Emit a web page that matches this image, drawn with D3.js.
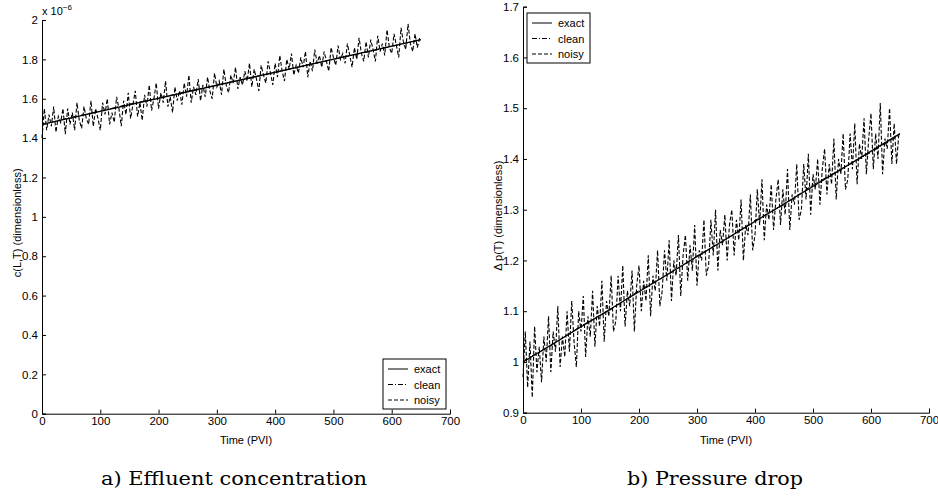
<!DOCTYPE html>
<html lang="en">
<head>
<meta charset="UTF-8">
<title>Effluent concentration and pressure drop</title>
<script src="https://d3js.org/d3.v7.min.js"></script>
<style>
    body { margin: 0; background: #fff; }
    svg { display: block; }
    .tick text { font-family: "Liberation Sans", Arial, sans-serif; font-size: 11.5px; fill: #000; }
    .lbl { font-family: "Liberation Sans", Arial, sans-serif; font-size: 11px; fill: #000; }
    .cap { font-family: "DejaVu Serif", serif; font-size: 19px; fill: #000; }
</style>
</head>
<body>
<script>
// time samples of the noisy series (PVI)
const noisyTime = d3.range(0, 649, 4);

// a) effluent concentration, in units of 1e-6
const concExactT = [0, 650];
const concExact = [1.47, 1.90];
const concCleanT = [0, 50, 100, 150, 200, 250, 300, 350, 400, 450, 500, 550, 600, 650];
const concClean = [1.468, 1.506, 1.537, 1.573, 1.603, 1.638, 1.669, 1.701, 1.734, 1.768, 1.800, 1.832, 1.866, 1.899];
const concNoisy = [
    1.40,1.55,1.44,1.52,1.46,1.56,1.43,1.51,1.48,1.55,
    1.42,1.55,1.47,1.53,1.44,1.58,1.49,1.45,1.56,1.50,
    1.47,1.59,1.46,1.55,1.50,1.44,1.58,1.52,1.60,1.47,
    1.53,1.48,1.61,1.55,1.46,1.59,1.52,1.63,1.50,1.57,
    1.64,1.51,1.58,1.49,1.62,1.56,1.67,1.54,1.60,1.68,
    1.55,1.63,1.58,1.69,1.56,1.61,1.53,1.66,1.59,1.64,
    1.57,1.68,1.61,1.72,1.58,1.66,1.62,1.70,1.59,1.67,
    1.61,1.71,1.64,1.60,1.73,1.66,1.69,1.62,1.75,1.67,
    1.63,1.72,1.68,1.76,1.65,1.71,1.67,1.74,1.69,1.78,
    1.66,1.75,1.70,1.64,1.77,1.72,1.68,1.79,1.73,1.67,
    1.78,1.71,1.82,1.74,1.69,1.80,1.75,1.83,1.72,1.77,
    1.73,1.81,1.76,1.84,1.71,1.79,1.74,1.85,1.78,1.82,
    1.76,1.84,1.79,1.74,1.86,1.81,1.77,1.87,1.80,1.83,
    1.78,1.88,1.82,1.76,1.86,1.80,1.91,1.83,1.79,1.89,
    1.81,1.90,1.85,1.79,1.92,1.84,1.88,1.82,1.95,1.86,
    1.83,1.93,1.87,1.81,1.96,1.89,1.85,1.98,1.88,1.84,
    1.93,1.86,1.91
];

// b) pressure drop
const presExactT = [0, 650];
const presExact = [1.00, 1.45];
const presCleanT = [0, 50, 100, 150, 200, 250, 300, 350, 400, 450, 500, 550, 600, 650];
const presClean = [1.002, 1.033, 1.071, 1.102, 1.141, 1.172, 1.209, 1.241, 1.279, 1.310, 1.349, 1.381, 1.413, 1.448];
const presNoisy = [
    0.97,1.06,0.95,1.04,0.93,1.07,0.98,1.03,0.96,1.05,
    1.00,1.09,0.98,1.06,1.02,1.11,0.99,1.05,1.01,1.10,
    1.02,1.12,1.04,0.99,1.10,1.06,1.13,1.01,1.09,1.05,
    1.14,1.03,1.11,1.07,1.16,1.04,1.12,1.09,1.17,1.06,
    1.08,1.17,1.10,1.19,1.07,1.14,1.11,1.18,1.06,1.15,
    1.19,1.10,1.16,1.12,1.21,1.09,1.17,1.14,1.22,1.11,
    1.14,1.22,1.16,1.24,1.12,1.20,1.17,1.25,1.13,1.21,
    1.25,1.16,1.23,1.18,1.27,1.15,1.22,1.20,1.28,1.17,
    1.19,1.28,1.21,1.30,1.18,1.26,1.23,1.29,1.20,1.27,
    1.30,1.21,1.28,1.24,1.32,1.20,1.27,1.25,1.33,1.22,
    1.25,1.34,1.27,1.36,1.24,1.31,1.28,1.35,1.26,1.32,
    1.36,1.27,1.34,1.29,1.38,1.26,1.33,1.31,1.39,1.28,
    1.30,1.39,1.32,1.41,1.29,1.37,1.34,1.40,1.31,1.38,
    1.42,1.33,1.39,1.35,1.44,1.32,1.40,1.37,1.45,1.34,
    1.36,1.45,1.38,1.47,1.35,1.43,1.40,1.48,1.37,1.44,
    1.49,1.38,1.45,1.40,1.51,1.37,1.44,1.42,1.50,1.39,
    1.47,1.39,1.45
];

const legendNames = ["exact", "clean", "noisy"];
const dashes = { exact: null, clean: "5,2,1,2", noisy: "4,2" };

const svg = d3.select("body").append("svg")
    .attr("width", 938)
    .attr("height", 496);

function panel(opt) {
    const x = d3.scaleLinear().domain([0, 700]).range([opt.x0, opt.x1]);
    const y = d3.scaleLinear().domain(opt.yDomain).range([opt.y0, opt.y1]);
    const g = svg.append("g");

    const line = d3.line().x(d => x(d[0])).y(d => y(d[1]));

    g.append("path")
        .datum(opt.noisy.map((v, i) => [noisyTime[i], v]))
        .attr("d", line)
        .attr("fill", "none").attr("stroke", "#000").attr("stroke-width", 1.1)
        .attr("stroke-dasharray", dashes.noisy);
    g.append("path")
        .datum(opt.clean.map((v, i) => [opt.cleanT[i], v]))
        .attr("d", line)
        .attr("fill", "none").attr("stroke", "#000").attr("stroke-width", 1)
        .attr("stroke-dasharray", dashes.clean);
    g.append("path")
        .datum(opt.exact.map((v, i) => [opt.exactT[i], v]))
        .attr("d", line)
        .attr("fill", "none").attr("stroke", "#000").attr("stroke-width", 1.3);

    // axes, ticks pointing inward like matlab
    const xAxis = d3.axisBottom(x).tickValues(d3.range(0, 701, 100)).tickSizeInner(-4).tickSizeOuter(-4).tickPadding(6);
    const gx = g.append("g").attr("transform", `translate(0,${opt.y0})`).call(xAxis);
    const yAxis = d3.axisLeft(y).tickValues(opt.yTicks).tickSizeInner(-4).tickSizeOuter(-4).tickPadding(4)
        .tickFormat(opt.yFormat);
    const gy = g.append("g").attr("transform", `translate(${opt.x0},0)`).call(yAxis);
    [gx, gy].forEach(a => {
        a.select(".domain").attr("stroke", "#000");
        a.selectAll(".tick line").attr("stroke", "#000");
    });
    gx.selectAll(".tick text").attr("dy", "0.5em");

    g.append("text").attr("class", "lbl")
        .attr("x", (opt.x0 + opt.x1) / 2).attr("y", 444)
        .attr("text-anchor", "middle").text("Time (PVI)");
    g.append("text").attr("class", "lbl")
        .attr("transform", `translate(${opt.yLabelX},${(opt.y0 + opt.y1) / 2 + 6}) rotate(-90)`)
        .attr("text-anchor", "middle").text(opt.yLabel);

    g.append("text").attr("class", "cap")
        .attr("x", opt.capX).attr("y", 485)
        .attr("text-anchor", "middle")
        .attr("textLength", opt.capW).attr("lengthAdjust", "spacingAndGlyphs")
        .text(opt.caption);

    // legend box
    const lg = g.append("g").attr("transform", `translate(${opt.legX},${opt.legY})`);
    lg.append("rect").attr("width", 63).attr("height", 50)
        .attr("fill", "#fff").attr("stroke", "#000").attr("stroke-width", 1);
    legendNames.forEach((n, i) => {
        const yy = 10 + i * 15.5;
        lg.append("line").attr("x1", 5).attr("x2", 25).attr("y1", yy).attr("y2", yy)
            .attr("stroke", "#000").attr("stroke-width", 1)
            .attr("stroke-dasharray", dashes[n]);
        lg.append("text").attr("class", "lbl").attr("x", 31).attr("y", yy + 4).text(n);
    });
    return g;
}

const left = panel({
    x0: 42, x1: 450, y0: 413.7, y1: 20,
    yDomain: [0, 2], yTicks: d3.range(0, 2.01, 0.2),
    yFormat: d => d === 0 ? "0" : d3.format(".1~f")(d),
    exact: concExact, exactT: concExactT, clean: concClean, cleanT: concCleanT, noisy: concNoisy,
    yLabel: "c(L,T) (dimensionless)", yLabelX: 21,
    caption: "a) Effluent concentration", capX: 234, capW: 266,
    legX: 383, legY: 359
});
// axis multiplier
const mult = left.append("text").attr("class", "lbl").attr("x", 42).attr("y", 15);
mult.append("tspan").text("x 10");
mult.append("tspan").attr("dy", -5).attr("font-size", 8).text("−6");

panel({
    x0: 523, x1: 929, y0: 412.7, y1: 6.7,
    yDomain: [0.9, 1.7], yTicks: d3.range(0.9, 1.71, 0.1),
    yFormat: d => d3.format(".1~f")(d),
    exact: presExact, exactT: presExactT, clean: presClean, cleanT: presCleanT, noisy: presNoisy,
    yLabel: "\u0394 p(T) (dimensionless)", yLabelX: 502,
    caption: "b) Pressure drop", capX: 715, capW: 176,
    legX: 527, legY: 13
});
</script>
</body>
</html>
